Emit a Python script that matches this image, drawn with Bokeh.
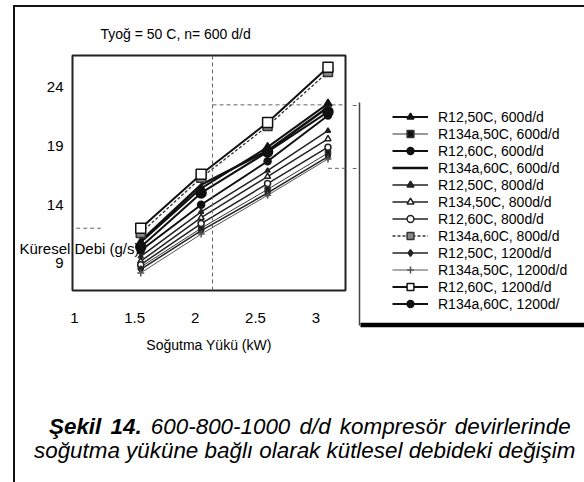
from bokeh.plotting import figure
from bokeh.models import (Legend, LegendItem, FixedTicker, Span, Range1d, Title,
                          Div, LinearAxis)
from bokeh.layouts import column, row
from bokeh.embed import file_html
from bokeh.resources import INLINE

# ---------------- data ----------------
loads = [1.55, 2.05, 2.6, 3.1]          # Soğutma Yükü (kW)
x_ticks = [1, 1.5, 2, 2.5, 3]
y_ticks = [9, 14, 19, 24]
y_title_level = 10.3                    # where the horizontal y title sits

names = ["R12,50C, 600d/d", "R134a,50C, 600d/d", "R12,60C, 600d/d",
         "R134a,60C, 600d/d", "R12,50C, 800d/d", "R134,50C, 800d/d",
         "R12,60C, 800d/d", "R134a,60C, 800d/d", "R12,50C, 1200d/d",
         "R134a,50C, 1200d/d", "R12,60C, 1200d/d", "R134a,60C, 1200d/"]

r12_50_600 = [10.8, 15.4, 18.9, 22.6]
r134a_50_600 = [8.7, 12.0, 15.3, 18.4]
r12_60_600 = [10.1, 14.0, 17.7, 21.6]
r134a_60_600 = [10.9, 15.7, 18.6, 22.3]
r12_50_800 = [9.6, 13.4, 16.9, 20.3]
r134_50_800 = [9.2, 12.9, 16.4, 19.6]
r12_60_800 = [8.9, 12.4, 15.8, 18.9]
r134a_60_800 = [11.6, 16.3, 20.7, 25.3]
r12_50_1200 = [8.5, 11.8, 15.0, 18.1]
r134a_50_1200 = [8.2, 11.5, 14.8, 17.9]
r12_60_1200 = [12.0, 16.6, 21.0, 25.7]
r134a_60_1200 = [10.4, 15.0, 18.5, 21.9]

series = [r12_50_600, r134a_50_600, r12_60_600, r134a_60_600, r12_50_800,
          r134_50_800, r12_60_800, r134a_60_800, r12_50_1200, r134a_50_1200,
          r12_60_1200, r134a_60_1200]

# dashed reading lines seen in the scan
guide_x = 2.144
guide_y = [22.5, 17.1, 12.0]
guide_x0 = [2.144, 3.1, 0.9]
guide_x1 = [3.3, 3.3, 1.22]

# ---------------- styles ----------------
FONT = "Liberation Sans"
styles = [
    dict(lw=2.0, color="#111", dash="solid", marker="triangle", size=8, fill="#111"),
    dict(lw=1.0, color="#333", dash="solid", marker="square", size=5, fill="#111"),
    dict(lw=2.0, color="#111", dash="solid", marker="circle", size=7, fill="#111"),
    dict(lw=2.5, color="#111", dash="solid", marker=None, size=0, fill=None),
    dict(lw=1.5, color="#222", dash="solid", marker="triangle", size=5, fill="#222"),
    dict(lw=1.5, color="#222", dash="solid", marker="triangle", size=6, fill="white"),
    dict(lw=1.5, color="#222", dash="solid", marker="circle", size=6, fill="white"),
    dict(lw=1.3, color="#333", dash="3 2", marker="square", size=9, fill="#888"),
    dict(lw=1.5, color="#222", dash="solid", marker="diamond", size=7, fill="#222"),
    dict(lw=1.0, color="#555", dash="solid", marker="cross", size=7, fill=None),
    dict(lw=2.0, color="#111", dash="solid", marker="square", size=10, fill="white"),
    dict(lw=2.0, color="#111", dash="solid", marker="circle", size=10, fill="#111"),
]

H = 360  # height of the chart row


def no_frame_align(fig):
    if "frame_align" in fig.properties():
        fig.frame_align = False


# ---------------- main chart ----------------
p = figure(width=337, height=H, output_backend="svg", toolbar_location=None,
           x_range=Range1d(0.985, 3.245), y_range=Range1d(6.7, 26.7),
           min_border_left=57, min_border_right=7, min_border_top=48,
           min_border_bottom=H - 283)
no_frame_align(p)
p.background_fill_color = "white"
p.border_fill_color = "white"
p.outline_line_color = "#222"
p.outline_line_width = 2
p.xgrid.visible = False
p.ygrid.visible = False

p.xaxis.ticker = FixedTicker(ticks=x_ticks)
p.yaxis.ticker = FixedTicker(ticks=y_ticks)
for ax in (p.xaxis[0], p.yaxis[0]):
    ax.axis_line_color = None
    ax.major_tick_line_color = None
    ax.minor_tick_line_color = None
    ax.major_tick_out = 0
    ax.minor_tick_out = 0
    ax.major_label_text_font = FONT
    ax.major_label_text_font_size = "15px"
    ax.major_label_text_color = "black"
p.xaxis.major_label_standoff = 22
p.yaxis.major_label_standoff = 9
p.xaxis.axis_label = "Soğutma Yükü (kW)"
p.xaxis.axis_label_text_font = FONT
p.xaxis.axis_label_text_font_size = "14px"
p.xaxis.axis_label_text_font_style = "normal"
p.xaxis.axis_label_text_color = "black"
p.xaxis.axis_label_standoff = 11

# horizontal y title, drawn as the single label of an outer left axis
ytitle = LinearAxis(ticker=FixedTicker(ticks=[y_title_level]),
                    major_label_overrides={y_title_level: "Küresel Debi (g/s)"},
                    major_label_standoff=-96, axis_line_color=None,
                    major_tick_line_color=None, minor_tick_line_color=None,
                    major_tick_out=0, minor_tick_out=0, major_tick_in=0,
                    minor_tick_in=0, major_label_text_font=FONT,
                    major_label_text_font_size="15px",
                    major_label_text_color="black")
p.add_layout(ytitle, "left")

p.add_layout(Title(text="Tyoğ = 50 C, n= 600 d/d", align="left", offset=28,
                   standoff=28, text_font=FONT, text_font_size="14px",
                   text_font_style="normal", text_color="black"), "above")

p.add_layout(Span(location=guide_x, dimension="height", line_color="#666",
                  line_dash="4 3", line_width=1))
p.segment(x0=guide_x0, y0=guide_y, x1=guide_x1, y1=guide_y, line_color="#666",
          line_dash="4 3", line_width=1)

for vals, st in zip(series, styles):
    p.line(loads, vals, line_width=st["lw"], line_color=st["color"],
           line_dash=st["dash"])
    if st["marker"]:
        p.scatter(loads, vals, marker=st["marker"], size=st["size"],
                  line_color=st["color"], line_width=1.5, fill_color=st["fill"])

# ---------------- legend panel (page pixel coordinates) ----------------
lf = figure(width=232, height=H, output_backend="svg", toolbar_location=None,
            x_range=Range1d(352, 584), y_range=Range1d(367, 7),
            x_axis_location=None, y_axis_location=None,
            min_border=0, min_border_left=0, min_border_right=0,
            min_border_top=0, min_border_bottom=0)
no_frame_align(lf)
lf.outline_line_color = None
lf.xgrid.visible = False
lf.ygrid.visible = False
lf.background_fill_color = "white"
lf.border_fill_color = "white"

# legend box edges and the dashed guides reaching it
lf.segment(x0=[359], y0=[102], x1=[359], y1=[325], line_color="#444", line_width=1.5)
lf.segment(x0=[360], y0=[324.5], x1=[584], y1=[324.5], line_color="black",
           line_width=4.5)
lf.segment(x0=[352, 352], y0=[105, 168], x1=[359, 359], y1=[105, 168],
           line_color="#666", line_dash="4 3", line_width=1)

# legend swatches: same series, they fall outside this panel's range
items = []
for name, vals, st in zip(names, series, styles):
    rs = [lf.line(loads, vals, line_width=st["lw"], line_color=st["color"],
                  line_dash=st["dash"])]
    if st["marker"]:
        rs.append(lf.scatter(loads, vals, marker=st["marker"], size=st["size"],
                             line_color=st["color"], line_width=1.5,
                             fill_color=st["fill"]))
    items.append(LegendItem(label=name, renderers=rs))

legend = Legend(items=items, location=(40, 55),
                glyph_width=36, glyph_height=17, label_height=17, spacing=0,
                padding=0, margin=0, label_standoff=10,
                label_text_font=FONT, label_text_font_size="14px",
                label_text_color="black",
                border_line_color=None, background_fill_alpha=0)
lf.add_layout(legend)

caption = Div(
    text=("<div style=\"font-family:'Liberation Sans';font-size:22.4px;"
          "font-style:italic;line-height:24px;color:#000;white-space:nowrap\">"
          "<div style='margin-left:29px;margin-top:43px;word-spacing:3px'>"
          "<b>Şekil 14.</b> 600-800-1000 d/d kompresör devirlerinde</div>"
          "<div style='margin-left:14px'>soğutma yüküne bağlı olarak kütlesel "
          "debideki değişim</div></div>"),
    width=569, height=110)

page = column(row(p, lf), caption, margin=(5, 0, 0, 13),
              styles={"border-left": "2px solid #111", "border-top": "2px solid #111"})

open("out.html", "w").write(file_html(page, INLINE))
